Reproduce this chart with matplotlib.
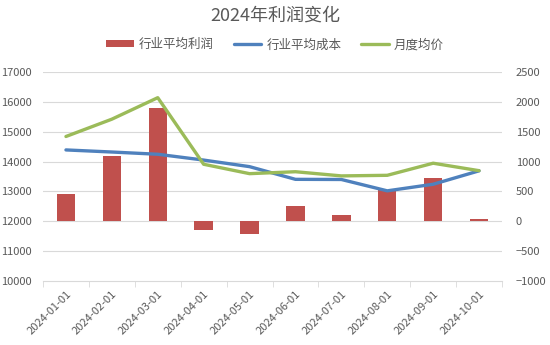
import numpy as np
import matplotlib.pyplot as plt
import matplotlib

matplotlib.rcParams['font.family'] = ['Noto Sans CJK SC', 'DejaVu Sans']

months = ['2024-01-01', '2024-02-01', '2024-03-01', '2024-04-01', '2024-05-01',
          '2024-06-01', '2024-07-01', '2024-08-01', '2024-09-01', '2024-10-01']
profit = [450, 1090, 1890, -140, -210, 250, 110, 530, 720, 35]  # 行业平均利润 (右轴)
cost = [14390, 14320, 14245, 14050, 13830, 13405, 13400, 13020, 13240, 13690]  # 行业平均成本
price = [14840, 15420, 16140, 13910, 13595, 13660, 13520, 13540, 13945, 13695]  # 月度均价

txt = '#595959'
grid = '#D9D9D9'

fig = plt.figure(figsize=(5.5, 3.45), dpi=100, facecolor='white')
ax = fig.add_axes([43/550, 1-281/345, 459/550, 209/345])
ax2 = ax.twinx()

x = np.arange(len(months))
ax.set_zorder(ax2.get_zorder() + 1)
ax.patch.set_visible(False)

b = ax2.bar(x, profit, width=0.4, color='#C0504D', zorder=2, label='行业平均利润')
l1, = ax.plot(x, cost, color='#4F81BD', lw=2.4, solid_capstyle='round', label='行业平均成本')
l2, = ax.plot(x, price, color='#9BBB59', lw=2.4, solid_capstyle='round', label='月度均价')

ax.set_ylim(10000, 17000)
ax.set_yticks(np.arange(10000, 17001, 1000))
ax2.set_ylim(-1000, 2500)
ax2.set_yticks(np.arange(-1000, 2501, 500))
ax.set_xlim(-0.5, len(months) - 0.5)

for yv in np.arange(11000, 17001, 1000):
    ax2.axhline(-1000 + (yv - 10000) / 2, color=grid, lw=0.8, zorder=0)

ax.set_xticks(x)
ax.set_xticklabels(months, rotation=45, ha='right', rotation_mode='anchor')
ax.set_xticks(np.arange(-0.5, len(months)), minor=True)
ax.tick_params(axis='x', which='major', length=0, pad=6, labelsize=8, labelcolor=txt)
ax.tick_params(axis='x', which='minor', length=4, color=grid)
ax.tick_params(axis='y', length=0, labelsize=8, labelcolor=txt, pad=8)
ax2.tick_params(axis='y', length=0, labelsize=8, labelcolor=txt, pad=10)

for a in (ax, ax2):
    for s in a.spines.values():
        s.set_visible(False)
ax.spines['bottom'].set_visible(True)
ax.spines['bottom'].set_color(grid)

fig.text(0.5, 0.955, '2024年利润变化', ha='center', va='center', fontsize=13, color=txt)
fig.legend([b, l1, l2], ['行业平均利润', '行业平均成本', '月度均价'],
           loc='center', bbox_to_anchor=(0.5, 0.87), ncol=3, frameon=False,
           fontsize=9, labelcolor=txt, handlelength=2.2, handleheight=0.5,
           columnspacing=1.6, handletextpad=0.4)

plt.savefig('out.png', dpi=100)
